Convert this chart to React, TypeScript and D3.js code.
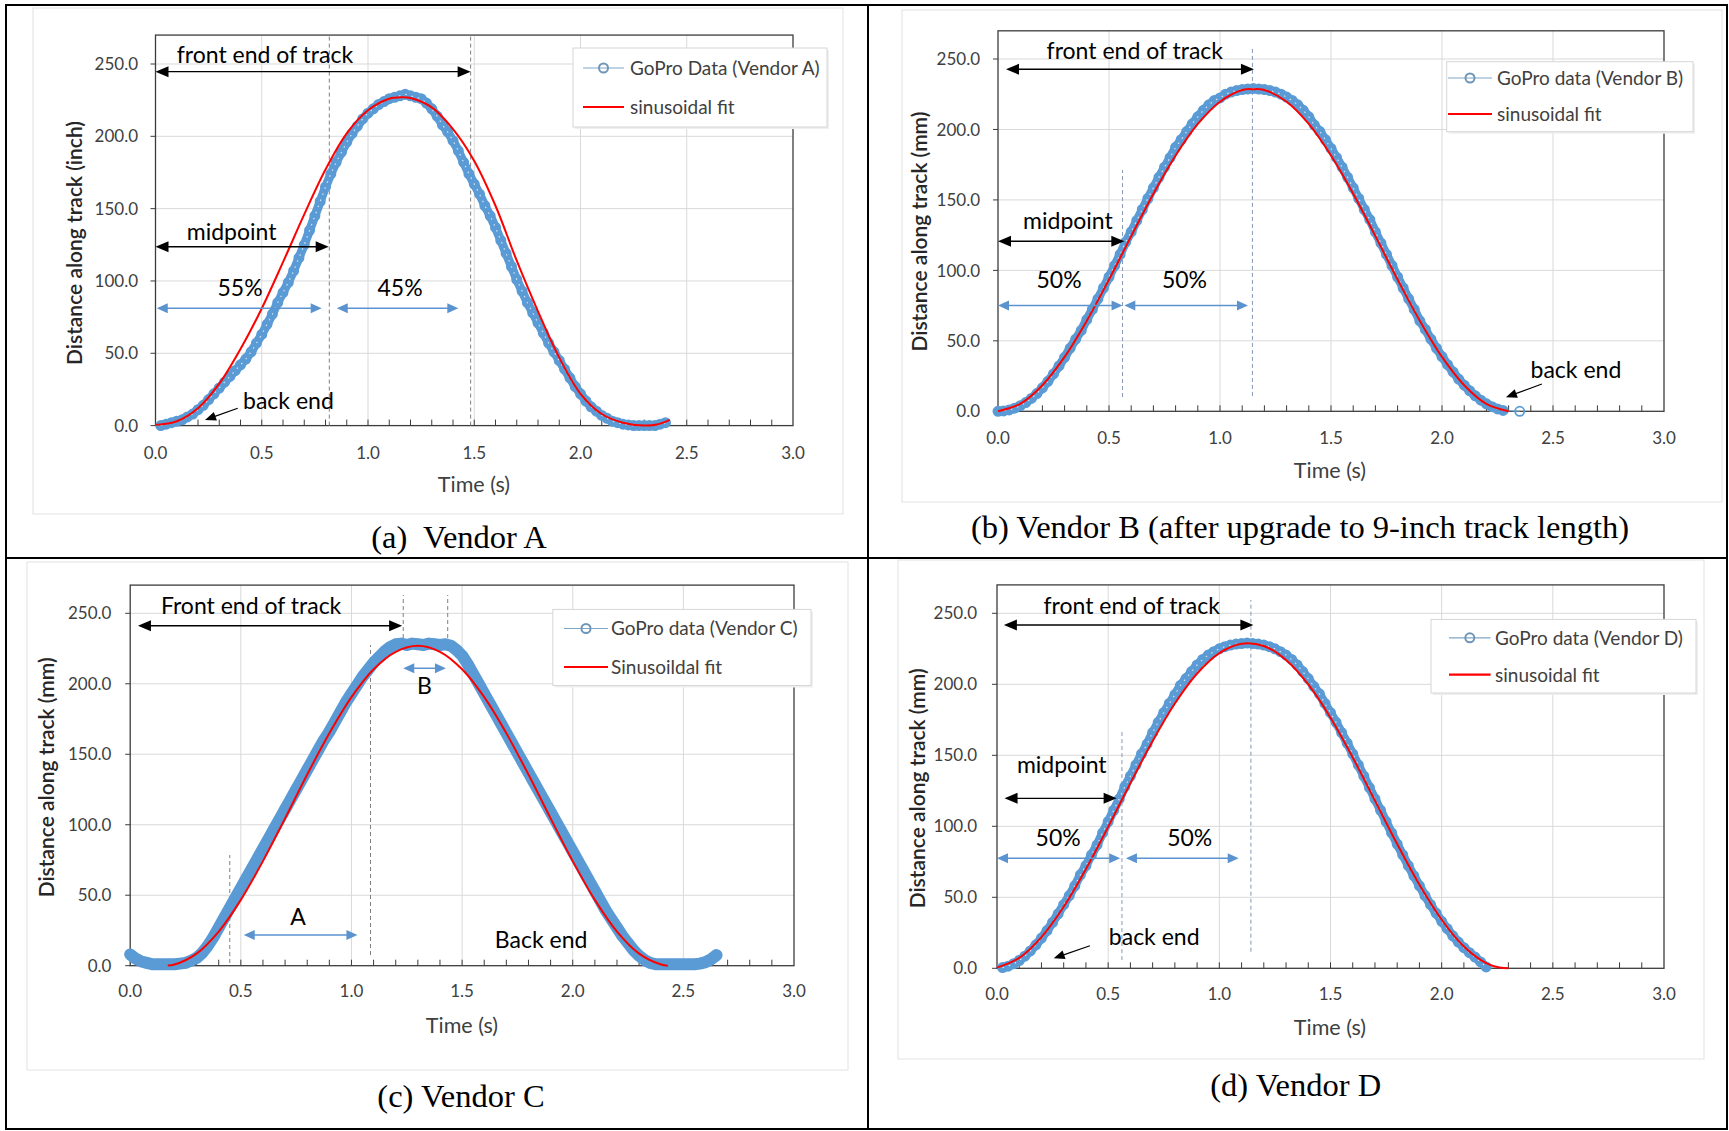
import React from 'react';
import * as d3 from 'd3';

// ---------- shared axis values ----------
const FRAME_DT = 0.025; // s between GoPro samples
const timeTickValues = [0, 0.5, 1.0, 1.5, 2.0, 2.5, 3.0];
const timeTickLabels = ['0.0', '0.5', '1.0', '1.5', '2.0', '2.5', '3.0'];
const distanceTickValues = [0, 50, 100, 150, 200, 250];
const distanceTickLabels = ['0.0', '50.0', '100.0', '150.0', '200.0', '250.0'];

// ---------- (a) Vendor A ----------
const goproAStart = 0.025;
const goproA = [
  0, 1, 2, 3, 4, 6, 8, 11, 14, 18,
  22, 26, 30, 34, 38, 42, 46, 51, 57, 63,
  70, 77, 85, 92, 99, 107, 116, 125, 135, 145,
  155, 165, 174, 182, 189, 196, 202, 207, 212, 216,
  219, 222, 224, 226, 227, 228, 229, 228, 227, 226,
  223, 219, 214, 208, 203, 197, 190, 182, 174, 167,
  160, 152, 145, 137, 128, 119, 110, 101, 93, 85,
  78, 71, 64, 57, 51, 45, 39, 33, 27, 22,
  17, 13, 10, 7, 5, 3, 2, 1, 0.5, 0,
  0, 0, 0, 0, 1, 2,
];
const fitA: [number, number][] = [
  [0, 0.5], [0.1, 3], [0.2, 12], [0.3, 29], [0.4, 53], [0.5, 81], [0.6, 113], [0.7, 146],
  [0.8, 177], [0.9, 202], [1.0, 218], [1.1, 226], [1.16, 227], [1.2, 226.5], [1.3, 220],
  [1.4, 205], [1.5, 183], [1.6, 152], [1.7, 114], [1.8, 79], [1.9, 47], [2.0, 22],
  [2.1, 8], [2.2, 2], [2.3, 0], [2.36, 0.8], [2.42, 4],
];

// ---------- (b) Vendor B ----------
const goproBStart = 0;
const goproB = [
  0, 0.3, 1, 2.2, 3.9, 6.2, 9.1, 12.6, 16.7, 21.3,
  26.5, 32.2, 38.3, 44.8, 51.2, 57.4, 65.1, 72.3, 79.8, 87.5,
  95.3, 103.3, 111.3, 120.1, 127.3, 135.3, 143.2, 151, 158.6, 166,
  173.2, 180, 187.3, 192.7, 198.5, 204, 209, 213.6, 217.5, 220.6,
  222.4, 225, 226.5, 227.6, 228.3, 228.7, 229,
  228.7, 228.3, 227.6, 226.5, 225, 223, 220.6, 217.5, 213.6, 209,
  203.1, 198.5, 192.7, 186.5, 180, 173.2, 166, 158.6, 151, 143.2,
  136, 127.3, 119.3, 111.3, 103.3, 95.3, 87.5, 79.8, 72.3, 64.2,
  58.1, 51.2, 44.8, 38.8, 33.1, 27.9, 22.9, 18.5, 14.5, 11,
  7.9, 5.3, 3.3, 1.7, 0.6,
];
const goproBTail: [number, number][] = [[2.35, 0]];
const fitB: [number, number][] = [
  [0, 0.1], [0.1, 5.3], [0.2, 18.5], [0.3, 38.6], [0.4, 64.3], [0.5, 93.5], [0.6, 124.3],
  [0.7, 154.4], [0.8, 181.5], [0.9, 203.9], [1.0, 219.7], [1.1, 228], [1.15, 228.6],
  [1.2, 228], [1.3, 219.7], [1.4, 203.9], [1.5, 181.5], [1.6, 154.4], [1.7, 124.3],
  [1.8, 93.5], [1.9, 64.3], [2.0, 38.6], [2.1, 18.5], [2.2, 5.3], [2.3, 0.1],
];

// ---------- (c) Vendor C ----------
const goproCStart = 0;
const goproC = [
  8, 5, 3, 2, 1, 1, 1, 1, 1, 1.5,
  2, 3.5, 5.5, 9, 14, 20, 27, 34, 41, 48,
  55, 62, 69, 76, 83, 90, 97, 104, 111, 118,
  125, 132, 139, 146, 153, 160, 166, 173, 180, 187,
  193, 199, 205, 210, 215, 219, 223, 226, 228, 228.5,
  227.5, 228.5, 228, 227.5, 228.5, 228, 227.5, 228, 227, 224,
  220, 214, 207, 200, 193, 186, 179, 172, 165, 158,
  151, 144, 137, 130, 123, 116, 109, 102, 95, 88,
  81, 74, 67, 60, 53, 46, 39, 33, 27, 21,
  16, 11, 7, 4, 2, 1, 1, 1, 1, 1,
  1, 1, 1, 1.5, 2.5, 4.5, 7.5,
];
const fitC: [number, number][] = [
  [0.17, 0.1], [0.2, 0.8], [0.3, 8.6], [0.4, 24.2], [0.5, 46.7], [0.6, 74.2], [0.7, 104.5],
  [0.8, 135.6], [0.9, 164.9], [1.0, 190.5], [1.1, 210.3], [1.2, 222.7], [1.3, 227],
  [1.4, 222.7], [1.5, 210.3], [1.6, 190.5], [1.7, 164.9], [1.8, 135.6], [1.9, 104.5],
  [2.0, 74.2], [2.1, 46.7], [2.2, 24.2], [2.3, 8.6], [2.4, 0.8], [2.43, 0],
];

// ---------- (d) Vendor D ----------
const goproDStart = 0.025;
const goproD = [
  0.5, 1.5, 3.2, 5.5, 8.5, 12.2, 16.5, 21.3, 26.6, 32.3,
  38.4, 44.8, 51.2, 58.1, 65.8, 72.3, 79.8, 86.9, 95.3, 103.3,
  111.3, 119.3, 128, 135.3, 143.2, 151, 157.9, 166, 173.2, 180,
  186.5, 192.7, 199.2, 204, 209, 213.6, 217.5, 220.6, 223, 225,
  226.5, 227.6, 228.3, 228.7, 229,
  228.7, 228.3, 227.6, 226.5, 225, 223, 220.6, 217.5, 213.6, 209,
  204, 198.5, 193.3, 186.5, 180, 173.2, 166, 158.6, 151, 143.2,
  135.3, 127.3, 119.3, 111.3, 103.3, 95.3, 87.5, 79.8, 72.3, 65.1,
  58.1, 51.2, 44.8, 38.8, 33.1, 27.9, 22.9, 18.5, 14.5, 11,
  7.9, 4.5, 1.0,
];
const fitD: [number, number][] = [
  [0, 0.5], [0.1, 7.4], [0.2, 22], [0.3, 43.3], [0.4, 69.9], [0.5, 99.6], [0.6, 130.4],
  [0.7, 160.1], [0.8, 186.5], [0.9, 207.6], [1.0, 222], [1.1, 228.6], [1.2, 227],
  [1.3, 217.1], [1.4, 199.9], [1.5, 176.5], [1.6, 148.5], [1.7, 118.1], [1.8, 87.5],
  [1.9, 58.8], [2.0, 34.2], [2.1, 15.3], [2.2, 3.6], [2.26, 0.5], [2.3, 0],
];

// ---------- styles ----------
const SANS = "Lato, 'Open Sans', 'DejaVu Sans', sans-serif";
const SERIF = "'Liberation Serif', 'Times New Roman', serif";
const BLUE = '#5b9bd5';
const ARROW_BLUE = '#5b93cf';
const RED = '#ff0000';
const GRID = '#d9d9d9';
const AXIS = '#3c3c3c';
const LABEL = '#404040';
const DASH_BLUE = '#8798b6';

type Ann =
  | { type: 'text'; t: number; d: number; text: string; anchor: 'start' | 'middle' }
  | { type: 'darrow'; t1: number; t2: number; d: number; color: 'black' | 'blue' }
  | { type: 'vdash'; t: number; d1: number; d2: number; color?: string }
  | { type: 'arrow'; t1: number; d1: number; t2: number; d2: number };

interface PanelCfg {
  x0: number; x3: number; y0: number; y250: number;
  yLabelRight: number; xLabelBaseline: number;
  timeTitle: [number, number];
  yTitle: [number, number, string];
  caption: [number, number, string];
  legend: { x1: number; y1: number; x2: number; y2: number; lx1: number; lx2: number; r1: number; r2: number; tx: number; l1: string; l2: string };
  area: [number, number, number, number];
  series: [number, number][];
  tail: [number, number][];
  band: number;
  specks: boolean;
  fit: [number, number][];
  ann: Ann[];
}

const toPoints = (start: number, vals: number[]): [number, number][] =>
  vals.map((v, i) => [start + i * FRAME_DT, v] as [number, number]);

function head(tx: number, ty: number, dx: number, dy: number, L: number, W: number) {
  const len = Math.hypot(dx, dy);
  const ux = dx / len, uy = dy / len;
  const bx = tx - ux * L, by = ty - uy * L;
  const px = -uy * W / 2, py = ux * W / 2;
  return `M${tx},${ty}L${bx + px},${by + py}L${bx - px},${by - py}Z`;
}

function Panel({ cfg }: { cfg: PanelCfg }) {
  const yTop = cfg.y0 - (270 * (cfg.y0 - cfg.y250)) / 250;
  const x = d3.scaleLinear().domain([0, 3]).range([cfg.x0, cfg.x3]);
  const y = d3.scaleLinear().domain([0, 270]).range([cfg.y0, yTop]);
  const dataLine = d3.line<[number, number]>().x((p) => x(p[0])).y((p) => y(p[1]));
  const fitLine = d3
    .line<[number, number]>()
    .x((p) => x(p[0]))
    .y((p) => y(p[1]))
    .curve(d3.curveCatmullRom.alpha(0.5));
  const minor = d3.range(1, 30).map((i) => i / 10);
  const L = cfg.legend;
  const allPts = [...cfg.series, ...cfg.tail];

  return (
    <g>
      <rect x={cfg.area[0]} y={cfg.area[1]} width={cfg.area[2] - cfg.area[0]} height={cfg.area[3] - cfg.area[1]} fill="none" stroke="#e2e2e2" strokeWidth={1} />
      {/* gridlines */}
      {timeTickValues.slice(1, -1).map((t) => (
        <line key={'vg' + t} x1={x(t)} x2={x(t)} y1={y(0)} y2={yTop} stroke={GRID} strokeWidth={1} />
      ))}
      {distanceTickValues.slice(1).map((d) => (
        <line key={'hg' + d} x1={x(0)} x2={x(3)} y1={y(d)} y2={y(d)} stroke={GRID} strokeWidth={1} />
      ))}
      {/* plot frame */}
      <rect x={x(0)} y={yTop} width={x(3) - x(0)} height={y(0) - yTop} fill="none" stroke={AXIS} strokeWidth={1.3} />
      {/* ticks */}
      {minor.map((t) => (
        <line key={'mt' + t} x1={x(t)} x2={x(t)} y1={y(0)} y2={y(0) - 6} stroke={AXIS} strokeWidth={1} />
      ))}
      {distanceTickValues.map((d) => (
        <line key={'yt' + d} x1={x(0) - 5} x2={x(0)} y1={y(d)} y2={y(d)} stroke={AXIS} strokeWidth={1} />
      ))}
      {/* tick labels */}
      {distanceTickValues.map((d, i) => (
        <text key={'yl' + d} x={cfg.yLabelRight} y={y(d)} dy="0.36em" textAnchor="end" fontFamily={SANS} fontSize={17} fill={LABEL}>
          {distanceTickLabels[i]}
        </text>
      ))}
      {timeTickValues.map((t, i) => (
        <text key={'xl' + t} x={x(t)} y={cfg.xLabelBaseline} textAnchor="middle" fontFamily={SANS} fontSize={17} fill={LABEL}>
          {timeTickLabels[i]}
        </text>
      ))}
      <text x={cfg.timeTitle[0]} y={cfg.timeTitle[1]} textAnchor="middle" fontFamily={SANS} fontSize={21.5} fill={LABEL}>
        Time (s)
      </text>
      <text
        transform={`translate(${cfg.yTitle[0]},${cfg.yTitle[1]}) rotate(-90)`}
        textAnchor="middle"
        dy="0.36em"
        fontFamily={SANS}
        fontSize={21}
        fontWeight={600}
        fill="#262626"
      >
        {cfg.yTitle[2]}
      </text>

      {/* dashed guide lines */}
      {cfg.ann.filter((a) => a.type === 'vdash').map((a: any, i) => (
        <line key={'vd' + i} x1={x(a.t)} x2={x(a.t)} y1={y(a.d1)} y2={y(a.d2)} stroke={a.color || '#7f7f7f'} strokeWidth={1} strokeDasharray="4,3" />
      ))}

      {/* GoPro data: dense markers form a band */}
      <path d={dataLine(cfg.series) || ''} fill="none" stroke={BLUE} strokeWidth={cfg.band} strokeLinejoin="round" strokeLinecap="round" />
      <path d={dataLine(allPts) || ''} fill="none" stroke={BLUE} strokeWidth={1} />
      {allPts.map((p, i) => (
        <circle key={'c' + i} cx={x(p[0])} cy={y(p[1])} r={4.6} fill="none" stroke={BLUE} strokeWidth={1.8} />
      ))}
      {cfg.specks && (
        <path d={dataLine(cfg.series) || ''} fill="none" stroke="#d4e5f5" strokeWidth={1.2} strokeDasharray="1.5,5" />
      )}
      {/* sinusoidal fit */}
      <path d={fitLine(cfg.fit) || ''} fill="none" stroke={RED} strokeWidth={2} />

      {/* annotations */}
      {cfg.ann.map((a, i) => {
        if (a.type === 'text') {
          return (
            <text key={'a' + i} x={x(a.t)} y={y(a.d)} textAnchor={a.anchor} fontFamily={SANS} fontSize={23} fill="#000">
              {a.text}
            </text>
          );
        }
        if (a.type === 'darrow') {
          const black = a.color === 'black';
          const col = black ? '#000' : ARROW_BLUE;
          const Lh = black ? 13 : 11;
          const Wh = black ? 11 : 10;
          const x1 = x(a.t1), x2 = x(a.t2), yy = y(a.d);
          return (
            <g key={'a' + i}>
              <line x1={x1 + Lh - 2} x2={x2 - Lh + 2} y1={yy} y2={yy} stroke={col} strokeWidth={black ? 1.4 : 1.5} />
              <path d={head(x1, yy, -1, 0, Lh, Wh)} fill={col} />
              <path d={head(x2, yy, 1, 0, Lh, Wh)} fill={col} />
            </g>
          );
        }
        if (a.type === 'arrow') {
          const x1 = x(a.t1), y1 = y(a.d1), x2 = x(a.t2), y2 = y(a.d2);
          const dx = x2 - x1, dy = y2 - y1;
          const len = Math.hypot(dx, dy);
          return (
            <g key={'a' + i}>
              <line x1={x1} y1={y1} x2={x2 - (dx / len) * 9} y2={y2 - (dy / len) * 9} stroke="#000" strokeWidth={1.2} />
              <path d={head(x2, y2, dx, dy, 11, 9)} fill="#000" />
            </g>
          );
        }
        return null;
      })}

      {/* legend */}
      <rect x={L.x1 + 2} y={L.y1 + 2} width={L.x2 - L.x1} height={L.y2 - L.y1} fill="#efefef" />
      <rect x={L.x1} y={L.y1} width={L.x2 - L.x1} height={L.y2 - L.y1} fill="#fff" stroke="#d6d6d6" strokeWidth={1} />
      <line x1={L.lx1} x2={L.lx2} y1={L.r1} y2={L.r1} stroke="#7fa6c4" strokeWidth={1.2} />
      <circle cx={(L.lx1 + L.lx2) / 2} cy={L.r1} r={4.5} fill="none" stroke="#6f96b8" strokeWidth={2} />
      <text x={L.tx} y={L.r1} dy="0.36em" fontFamily={SANS} fontSize={19} fill={LABEL}>{L.l1}</text>
      <line x1={L.lx1} x2={L.lx2} y1={L.r2} y2={L.r2} stroke={RED} strokeWidth={2.2} />
      <text x={L.tx} y={L.r2} dy="0.36em" fontFamily={SANS} fontSize={19} fill={LABEL}>{L.l2}</text>

      {/* caption */}
      <text x={cfg.caption[0]} y={cfg.caption[1]} textAnchor="middle" fontFamily={SERIF} fontSize={32.5} fill="#000" style={{ whiteSpace: 'pre' }}>
        {cfg.caption[2]}
      </text>
    </g>
  );
}

const panels: PanelCfg[] = [
  {
    x0: 155.5, x3: 793, y0: 425.6, y250: 64, yLabelRight: 138, xLabelBaseline: 459,
    timeTitle: [474, 492], yTitle: [74, 243, 'Distance along track (inch)'],
    caption: [459, 548, '(a)  Vendor A'],
    legend: { x1: 573, y1: 48, x2: 827, y2: 127, lx1: 583, lx2: 624, r1: 68, r2: 107, tx: 630, l1: 'GoPro Data (Vendor A)', l2: 'sinusoidal fit' },
    area: [33, 8, 843, 514],
    series: toPoints(goproAStart, goproA),
    tail: [],
    band: 9,
    specks: true,
    fit: fitA,
    ann: [
      { type: 'vdash', t: 0.818, d1: 0, d2: 270 },
      { type: 'vdash', t: 1.483, d1: 0, d2: 270 },
      { type: 'text', t: 0.1, d: 250.7, text: 'front end of track', anchor: 'start' },
      { type: 'darrow', t1: 0, t2: 1.483, d: 244.7, color: 'black' },
      { type: 'text', t: 0.147, d: 128.5, text: 'midpoint', anchor: 'start' },
      { type: 'darrow', t1: 0, t2: 0.815, d: 123.7, color: 'black' },
      { type: 'text', t: 0.398, d: 89.4, text: '55%', anchor: 'middle' },
      { type: 'text', t: 1.151, d: 89.4, text: '45%', anchor: 'middle' },
      { type: 'darrow', t1: 0.006, t2: 0.782, d: 81.1, color: 'blue' },
      { type: 'darrow', t1: 0.853, t2: 1.425, d: 81.1, color: 'blue' },
      { type: 'text', t: 0.412, d: 11.7, text: 'back end', anchor: 'start' },
      { type: 'arrow', t1: 0.387, d1: 12, t2: 0.233, d2: 3.9 },
    ],
  },
  {
    x0: 998, x3: 1664, y0: 411.3, y250: 59, yLabelRight: 980, xLabelBaseline: 444,
    timeTitle: [1330, 478], yTitle: [919.6, 231.6, 'Distance along track (mm)'],
    caption: [1300, 538, '(b) Vendor B (after upgrade to 9-inch track length)'],
    legend: { x1: 1446.7, y1: 61.7, x2: 1693, y2: 131.7, lx1: 1448, lx2: 1492, r1: 78, r2: 114, tx: 1497, l1: 'GoPro data (Vendor B)', l2: 'sinusoidal fit' },
    area: [902, 10, 1722, 502],
    series: toPoints(goproBStart, goproB),
    tail: goproBTail,
    band: 9,
    specks: true,
    fit: fitB,
    ann: [
      { type: 'vdash', t: 1.146, d1: 10.9, d2: 259.2, color: DASH_BLUE },
      { type: 'vdash', t: 0.561, d1: 10.1, d2: 171.2, color: DASH_BLUE },
      { type: 'text', t: 0.219, d: 250.2, text: 'front end of track', anchor: 'start' },
      { type: 'darrow', t1: 0.036, t2: 1.153, d: 242.7, color: 'black' },
      { type: 'text', t: 0.113, d: 129.7, text: 'midpoint', anchor: 'start' },
      { type: 'darrow', t1: 0, t2: 0.569, d: 120.7, color: 'black' },
      { type: 'text', t: 0.275, d: 87.2, text: '50%', anchor: 'middle' },
      { type: 'text', t: 0.84, d: 87.2, text: '50%', anchor: 'middle' },
      { type: 'darrow', t1: 0, t2: 0.561, d: 75.1, color: 'blue' },
      { type: 'darrow', t1: 0.569, t2: 1.126, d: 75.1, color: 'blue' },
      { type: 'text', t: 2.399, d: 23.3, text: 'back end', anchor: 'start' },
      { type: 'arrow', t1: 2.45, d1: 19.4, t2: 2.288, d2: 10 },
    ],
  },
  {
    x0: 130.2, x3: 794, y0: 965.7, y250: 613.3, yLabelRight: 111.4, xLabelBaseline: 997,
    timeTitle: [462, 1033], yTitle: [46.3, 777.4, 'Distance along track (mm)'],
    caption: [461, 1107, '(c) Vendor C'],
    legend: { x1: 552.8, y1: 609.4, x2: 811, y2: 685.5, lx1: 564, lx2: 608, r1: 628.5, r2: 667, tx: 611, l1: 'GoPro data (Vendor C)', l2: 'Sinusoildal fit' },
    area: [27, 562, 848, 1070],
    series: toPoints(goproCStart, goproC),
    tail: [],
    band: 12,
    specks: false,
    fit: fitC,
    ann: [
      { type: 'vdash', t: 1.234, d1: 227.5, d2: 263 },
      { type: 'vdash', t: 1.435, d1: 227.5, d2: 263 },
      { type: 'vdash', t: 1.086, d1: 7.6, d2: 227.5 },
      { type: 'vdash', t: 0.45, d1: 1.9, d2: 78.5 },
      { type: 'text', t: 0.139, d: 249.5, text: 'Front end of track', anchor: 'start' },
      { type: 'darrow', t1: 0.035, t2: 1.229, d: 241.2, color: 'black' },
      { type: 'text', t: 0.758, d: 29.1, text: 'A', anchor: 'middle' },
      { type: 'darrow', t1: 0.513, t2: 1.027, d: 21.8, color: 'blue' },
      { type: 'text', t: 1.33, d: 192.7, text: 'B', anchor: 'middle' },
      { type: 'darrow', t1: 1.234, t2: 1.427, d: 211, color: 'blue' },
      { type: 'text', t: 1.648, d: 12.6, text: 'Back end', anchor: 'start' },
    ],
  },
  {
    x0: 997, x3: 1664, y0: 968.3, y250: 613.3, yLabelRight: 977, xLabelBaseline: 999.5,
    timeTitle: [1330, 1035], yTitle: [917.4, 788.4, 'Distance along track (mm)'],
    caption: [1295.7, 1096, '(d) Vendor D'],
    legend: { x1: 1431, y1: 619.4, x2: 1696, y2: 693, lx1: 1449, lx2: 1490.6, r1: 637.8, r2: 674.7, tx: 1495, l1: 'GoPro data (Vendor D)', l2: 'sinusoidal fit' },
    area: [898, 560, 1704, 1059],
    series: toPoints(goproDStart, goproD),
    tail: [],
    band: 9,
    specks: true,
    fit: fitD,
    ann: [
      { type: 'vdash', t: 1.142, d1: 11.7, d2: 259.4, color: DASH_BLUE },
      { type: 'vdash', t: 0.562, d1: 5.8, d2: 167.8, color: DASH_BLUE },
      { type: 'text', t: 0.209, d: 249.5, text: 'front end of track', anchor: 'start' },
      { type: 'darrow', t1: 0.031, t2: 1.153, d: 241.8, color: 'black' },
      { type: 'text', t: 0.0895, d: 137.5, text: 'midpoint', anchor: 'start' },
      { type: 'darrow', t1: 0.034, t2: 0.538, d: 119.7, color: 'black' },
      { type: 'text', t: 0.275, d: 85.9, text: '50%', anchor: 'middle' },
      { type: 'text', t: 0.867, d: 85.9, text: '50%', anchor: 'middle' },
      { type: 'darrow', t1: 0, t2: 0.554, d: 77.5, color: 'blue' },
      { type: 'darrow', t1: 0.58, t2: 1.087, d: 77.5, color: 'blue' },
      { type: 'text', t: 0.503, d: 16.2, text: 'back end', anchor: 'start' },
      { type: 'arrow', t1: 0.418, d1: 15.9, t2: 0.255, d2: 7 },
    ],
  },
];

export default function App() {
  return (
    <svg width={1729} height={1131} style={{ position: 'absolute', left: 0, top: 0 }} xmlns="http://www.w3.org/2000/svg">
      <rect x={0} y={0} width={1729} height={1131} fill="#fff" />
      {panels.map((p, i) => (
        <Panel key={i} cfg={p} />
      ))}
      {/* table frame */}
      <rect x={6} y={5} width={1721} height={1124} fill="none" stroke="#000" strokeWidth={2} />
      <line x1={868} x2={868} y1={5} y2={1129} stroke="#000" strokeWidth={2} />
      <line x1={6} x2={1727} y1={558} y2={558} stroke="#000" strokeWidth={2} />
    </svg>
  );
}
